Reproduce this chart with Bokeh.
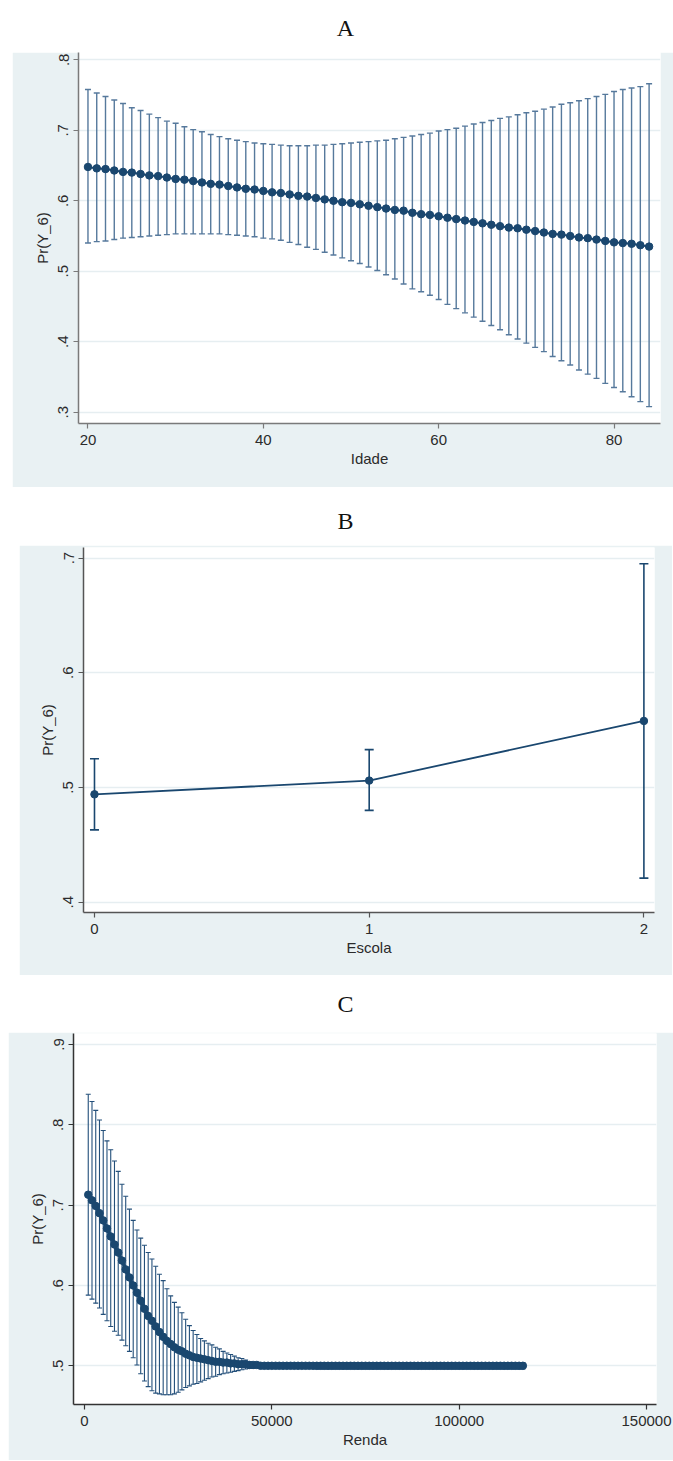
from bokeh.plotting import figure
from bokeh.models import (ColumnDataSource, Whisker, TeeHead, FixedTicker, Range1d,
                          Spacer, Label, CustomJSTickFormatter)
from bokeh.layouts import column, row
from bokeh.embed import file_html
from bokeh.resources import INLINE

# ---------------- data ----------------
# Panel A: Idade
idade = list(range(20, 85))
a_mean = [0.648, 0.646, 0.645, 0.643, 0.641, 0.640, 0.638, 0.636, 0.635, 0.633,
          0.631, 0.630, 0.628, 0.626, 0.624, 0.623, 0.621, 0.619, 0.617, 0.616,
          0.614, 0.612, 0.611, 0.609, 0.607, 0.606, 0.604, 0.602, 0.600, 0.598,
          0.597, 0.595, 0.593, 0.591, 0.589, 0.587, 0.586, 0.583, 0.581, 0.580,
          0.578, 0.576, 0.574, 0.572, 0.570, 0.568, 0.566, 0.564, 0.562, 0.561,
          0.559, 0.557, 0.555, 0.553, 0.552, 0.550, 0.548, 0.547, 0.545, 0.543,
          0.541, 0.540, 0.539, 0.537, 0.535]
a_upper = [0.758, 0.753, 0.748, 0.743, 0.738, 0.732, 0.728, 0.723, 0.718, 0.713,
           0.710, 0.705, 0.701, 0.698, 0.694, 0.691, 0.688, 0.686, 0.684, 0.682,
           0.681, 0.680, 0.679, 0.678, 0.678, 0.678, 0.679, 0.679, 0.680, 0.681,
           0.682, 0.683, 0.684, 0.685, 0.686, 0.688, 0.690, 0.692, 0.694, 0.696,
           0.699, 0.701, 0.703, 0.706, 0.709, 0.711, 0.714, 0.717, 0.719, 0.722,
           0.725, 0.727, 0.730, 0.733, 0.737, 0.739, 0.742, 0.745, 0.748, 0.751,
           0.755, 0.758, 0.760, 0.762, 0.766]
a_lower = [0.540, 0.542, 0.543, 0.545, 0.547, 0.548, 0.549, 0.550, 0.551, 0.552,
           0.553, 0.553, 0.553, 0.553, 0.553, 0.553, 0.552, 0.551, 0.550, 0.549,
           0.547, 0.546, 0.544, 0.541, 0.538, 0.534, 0.531, 0.527, 0.523, 0.519,
           0.515, 0.511, 0.506, 0.501, 0.495, 0.489, 0.482, 0.475, 0.471, 0.466,
           0.460, 0.453, 0.447, 0.441, 0.435, 0.429, 0.423, 0.417, 0.410, 0.404,
           0.398, 0.392, 0.386, 0.379, 0.373, 0.367, 0.360, 0.354, 0.348, 0.341,
           0.335, 0.329, 0.322, 0.315, 0.308]
a_xticks = [20, 40, 60, 80]
a_yticks = [0.3, 0.4, 0.5, 0.6, 0.7, 0.8]

# Panel B: Escola
escola = [0, 1, 2]
b_mean = [0.494, 0.506, 0.558]
b_upper = [0.525, 0.533, 0.695]
b_lower = [0.463, 0.480, 0.421]
b_xticks = [0, 1, 2]
b_yticks = [0.4, 0.5, 0.6, 0.7]

# Panel C: Renda
renda = list(range(1000, 118000, 1000))
c_mean = [0.713, 0.706, 0.699, 0.690, 0.681, 0.671, 0.661, 0.651, 0.641, 0.631,
          0.620, 0.610, 0.600, 0.591, 0.581, 0.571, 0.562, 0.556, 0.549, 0.542,
          0.536, 0.531, 0.527, 0.523, 0.520, 0.518, 0.515, 0.513, 0.511, 0.510,
          0.509, 0.508, 0.507, 0.506, 0.505, 0.505, 0.504, 0.504, 0.503, 0.503,
          0.502, 0.502, 0.502, 0.501, 0.501, 0.501, 0.500, 0.500, 0.500, 0.500,
          0.500, 0.500, 0.500, 0.500, 0.500, 0.500, 0.500, 0.500, 0.500, 0.500,
          0.500, 0.500, 0.500, 0.500, 0.500, 0.500, 0.500, 0.500, 0.500, 0.500,
          0.500, 0.500, 0.500, 0.500, 0.500, 0.500, 0.500, 0.500, 0.500, 0.500,
          0.500, 0.500, 0.500, 0.500, 0.500, 0.500, 0.500, 0.500, 0.500, 0.500,
          0.500, 0.500, 0.500, 0.500, 0.500, 0.500, 0.500, 0.500, 0.500, 0.500,
          0.500, 0.500, 0.500, 0.500, 0.500, 0.500, 0.500, 0.500, 0.500, 0.500,
          0.500, 0.500, 0.500, 0.500, 0.500, 0.500, 0.500]
c_upper = [0.838, 0.829, 0.818, 0.806, 0.793, 0.780, 0.769, 0.755, 0.742, 0.726,
           0.711, 0.695, 0.681, 0.669, 0.659, 0.650, 0.641, 0.633, 0.624, 0.614,
           0.606, 0.596, 0.587, 0.579, 0.573, 0.566, 0.558, 0.550, 0.544, 0.539,
           0.534, 0.531, 0.528, 0.526, 0.523, 0.521, 0.518, 0.516, 0.514, 0.512,
           0.510, 0.509, 0.507, 0.505, 0.504, 0.503, 0.502, 0.502, 0.502, 0.502,
           0.502, 0.502, 0.502, 0.502, 0.502, 0.502, 0.502, 0.502, 0.502, 0.502,
           0.502, 0.504, 0.504, 0.504, 0.504, 0.504, 0.504, 0.504, 0.504, 0.504,
           0.504, 0.504, 0.504, 0.504, 0.504, 0.504, 0.504, 0.504, 0.504, 0.504,
           0.504, 0.504, 0.504, 0.504, 0.504, 0.504, 0.504, 0.504, 0.504, 0.504,
           0.504, 0.504, 0.504, 0.504, 0.504, 0.504, 0.504, 0.504, 0.504, 0.504,
           0.504, 0.504, 0.504, 0.504, 0.504, 0.504, 0.504, 0.504, 0.504, 0.504,
           0.504, 0.504, 0.504, 0.504, 0.504, 0.504, 0.504]
c_lower = [0.588, 0.583, 0.578, 0.572, 0.564, 0.556, 0.549, 0.543, 0.538, 0.532,
           0.525, 0.518, 0.510, 0.501, 0.490, 0.481, 0.474, 0.469, 0.466, 0.465,
           0.464, 0.464, 0.464, 0.465, 0.467, 0.470, 0.473, 0.475, 0.477, 0.478,
           0.480, 0.482, 0.484, 0.486, 0.487, 0.489, 0.490, 0.491, 0.492, 0.493,
           0.494, 0.495, 0.496, 0.497, 0.497, 0.498, 0.498, 0.498, 0.498, 0.498,
           0.498, 0.498, 0.498, 0.498, 0.498, 0.498, 0.498, 0.498, 0.498, 0.498,
           0.498, 0.496, 0.496, 0.496, 0.496, 0.496, 0.496, 0.496, 0.496, 0.496,
           0.496, 0.496, 0.496, 0.496, 0.496, 0.496, 0.496, 0.496, 0.496, 0.496,
           0.496, 0.496, 0.496, 0.496, 0.496, 0.496, 0.496, 0.496, 0.496, 0.496,
           0.496, 0.496, 0.496, 0.496, 0.496, 0.496, 0.496, 0.496, 0.496, 0.496,
           0.496, 0.496, 0.496, 0.496, 0.496, 0.496, 0.496, 0.496, 0.496, 0.496,
           0.496, 0.496, 0.496, 0.496, 0.496, 0.496, 0.496]
c_xticks = [0, 50000, 100000, 150000]
c_yticks = [0.5, 0.6, 0.7, 0.8, 0.9]

y_label = "Pr(Y_6)"

# ---------------- style ----------------
NAVY = "#1a476f"
BAR_A = "#56799c"
BG = "#e9f1f3"
GRID = "#e6eef1"
SANS = "Liberation Sans"
SERIF = "Liberation Serif"
YFMT = CustomJSTickFormatter(code="return tick.toFixed(1).replace(/^0/, '');")
XFMT = CustomJSTickFormatter(code="return tick.toFixed(0);")
PAGE_W = 673


def title_fig(letter, h, ycenter):
    f = figure(width=PAGE_W, height=h, x_range=Range1d(0, PAGE_W), y_range=Range1d(0, h),
               toolbar_location=None, output_backend="svg", min_border=0,
               outline_line_color=None, background_fill_color="white",
               border_fill_color="white")
    f.xaxis.visible = False
    f.yaxis.visible = False
    f.grid.visible = False
    f.add_layout(Label(x=345, y=ycenter, text=letter, text_font=SERIF,
                       text_font_size="24px", text_color="#111111",
                       text_align="center", text_baseline="middle"))
    return f


def panel(w, h, xr, yr, borders, xticks, yticks, xlabel, axis_color):
    l, r, t, b = borders
    p = figure(width=w, height=h, x_range=Range1d(*xr), y_range=Range1d(*yr),
               toolbar_location=None, output_backend="svg",
               min_border_left=l, min_border_right=r, min_border_top=t,
               min_border_bottom=b, background_fill_color="white",
               border_fill_color=BG, outline_line_color=None)
    p.xgrid.visible = False
    p.ygrid.grid_line_color = GRID
    p.ygrid.grid_line_width = 1.5
    p.xaxis.ticker = FixedTicker(ticks=xticks)
    p.yaxis.ticker = FixedTicker(ticks=yticks)
    p.yaxis.formatter = YFMT
    p.xaxis.formatter = XFMT
    p.yaxis.major_label_orientation = "vertical"
    p.xaxis.axis_label = xlabel
    p.yaxis.axis_label = y_label
    for ax in (p.xaxis[0], p.yaxis[0]):
        ax.axis_line_color = axis_color
        ax.axis_line_width = 1.5
        ax.major_tick_line_color = axis_color
        ax.major_tick_line_width = 1.2
        ax.major_tick_out = 5
        ax.major_tick_in = 0
        ax.minor_tick_line_color = None
        ax.major_label_text_font = SANS
        ax.major_label_text_font_size = "15px"
        ax.major_label_text_color = "#2b2b2b"
        ax.axis_label_text_font = SANS
        ax.axis_label_text_font_size = "15px"
        ax.axis_label_text_font_style = "normal"
        ax.axis_label_text_color = "#2b2b2b"
    p.xaxis.major_label_standoff = 6
    p.xaxis.axis_label_standoff = 2
    p.yaxis.major_label_standoff = 5
    p.yaxis.axis_label_standoff = 5
    return p


def draw(p, x, m, lo, hi, bar_color, bar_w, cap, line_w, msize):
    src = ColumnDataSource(dict(x=x, m=m, lo=lo, hi=hi))
    p.add_layout(Whisker(source=src, base="x", lower="lo", upper="hi",
                         line_color=bar_color, line_width=bar_w,
                         upper_head=TeeHead(size=cap, line_color=bar_color, line_width=bar_w),
                         lower_head=TeeHead(size=cap, line_color=bar_color, line_width=bar_w)))
    p.line("x", "m", source=src, line_color=NAVY, line_width=line_w)
    p.scatter("x", "m", source=src, size=msize, fill_color=NAVY, line_color=NAVY)


# Panel A
tA = title_fig("A", 52, 25)
pA = panel(661, 435, (18.92, 85.30), (0.284, 0.8104), (66, 13, 0, 64),
           a_xticks, a_yticks, "Idade", "#7a7a7a")
draw(pA, idade, a_mean, a_lower, a_upper, BAR_A, 1.4, 6, 2, 7.5)

# Panel B
tB = title_fig("B", 58, 25)
pB = panel(653, 430, (-0.040, 2.0386), (0.391, 0.7092), (64, 18, 2, 63),
           b_xticks, b_yticks, "Escola", "#555555")
draw(pB, escola, b_mean, b_lower, b_upper, NAVY, 1.6, 9, 1.8, 7.5)

# Panel C
tC = title_fig("C", 57, 29)
pC = panel(665, 428, (-2936, 152669), (0.4518, 0.9137), (65, 17, 1, 56),
           c_xticks, c_yticks, "Renda", "#333333")
draw(pC, renda, c_mean, c_lower, c_upper, "#234f7a", 1.1, 5, 3.5, 7.5)

layout = column(tA, row(Spacer(width=12, height=435), pA),
                tB, row(Spacer(width=19, height=430), pB),
                tC, row(Spacer(width=8, height=428), pC), spacing=0)

open("out.html", "w").write(file_html(layout, INLINE))
